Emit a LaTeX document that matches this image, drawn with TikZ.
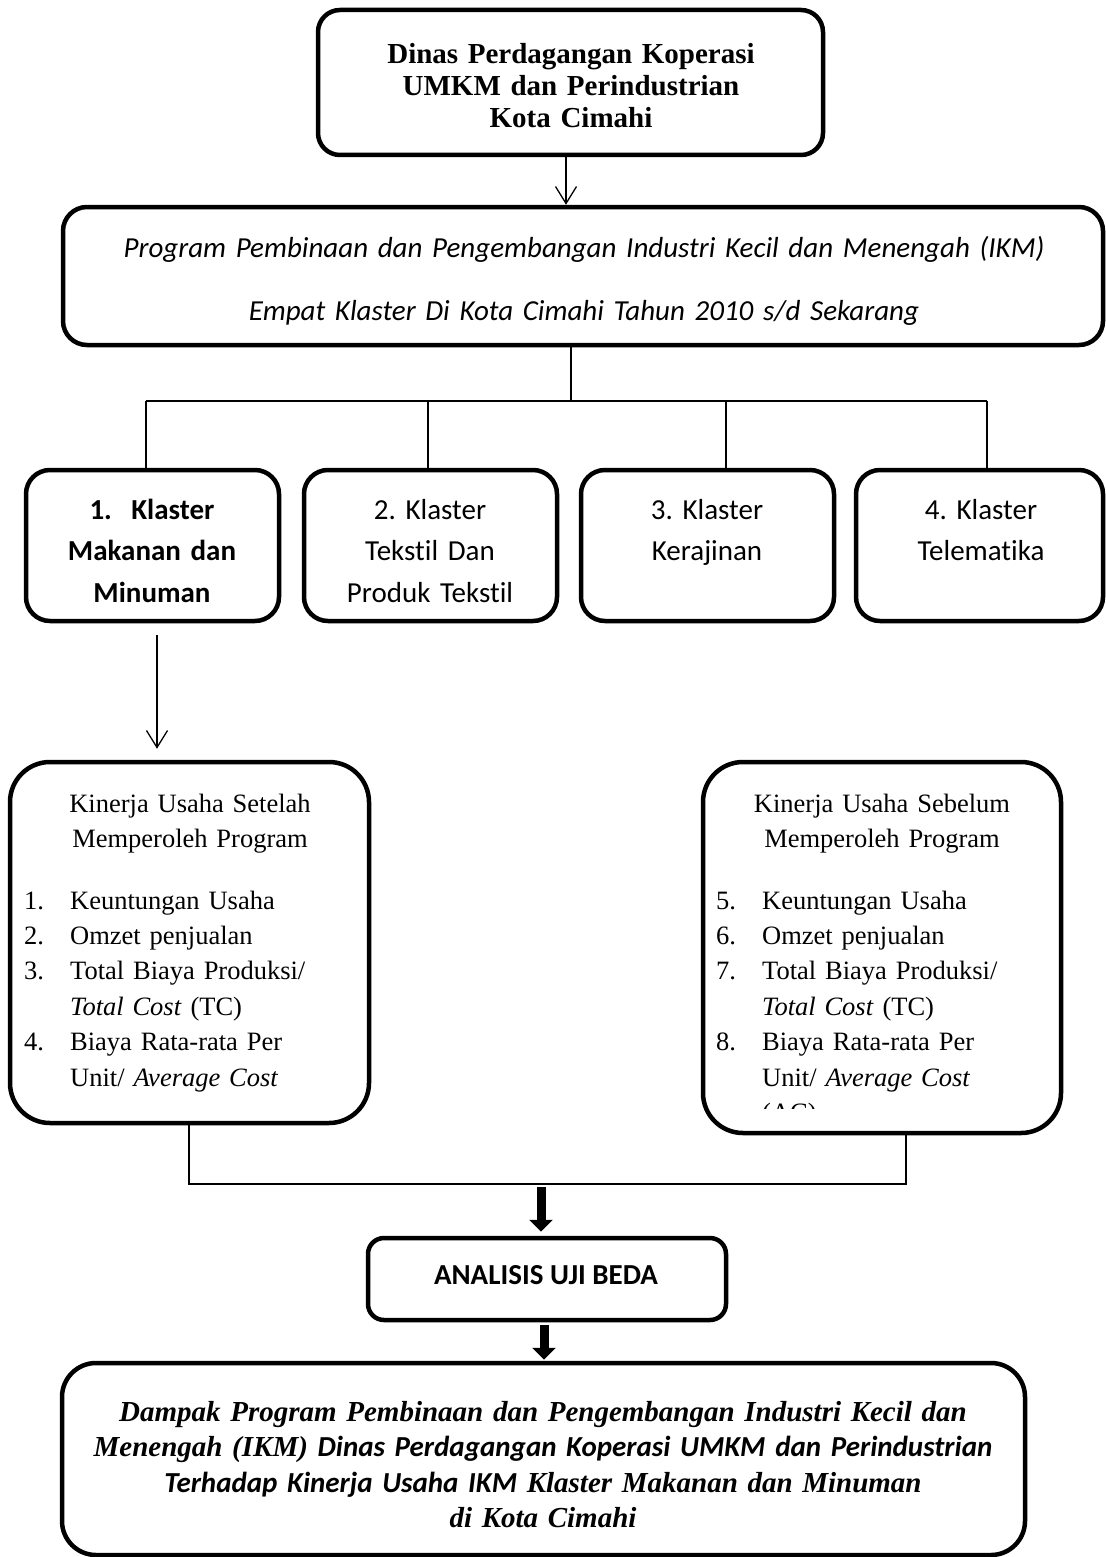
\documentclass[tikz,border=0pt]{standalone}
\usepackage{fontspec}
\setmainfont{Liberation Serif}
\newfontfamily\calibri[Ligatures=NoCommon]{Carlito}
\usetikzlibrary{arrows.meta,calc}
\frenchspacing
\begin{document}
\begin{tikzpicture}[x=1pt,y=-1pt,
  box/.style={draw, line width=4.5pt, rounded corners=#1, inner sep=0pt},
  box/.default=22pt,
  txt/.style={inner sep=0pt, anchor=base},
  thin/.style={line width=1.3pt},
  thinarrow/.style={line width=1.3pt, -{Straight Barb[length=17pt,width=21pt]}},
  thickarrow/.style={line width=9pt, -{Triangle[length=12pt,width=23pt]}},
  ]
\useasboundingbox (0,0) rectangle (1105,1557);

% boxes
\node[box=22pt, minimum width=505pt, minimum height=145pt] (top) at (570.5,82.5) {};
\node[box=24pt, minimum width=1040pt, minimum height=138pt] (prog) at (583,276) {};
\node[box=24pt, minimum width=253pt, minimum height=151pt] (k1) at (152.5,545.5) {};
\node[box=24pt, minimum width=253pt, minimum height=151pt] (k2) at (430.5,545.5) {};
\node[box=24pt, minimum width=253pt, minimum height=151pt] (k3) at (707.5,545.5) {};
\node[box=24pt, minimum width=247pt, minimum height=151pt] (k4) at (979.5,545.5) {};
\node[box=40pt, minimum width=359pt, minimum height=361pt] (set) at (189.5,942.5) {};
\node[box=40pt, minimum width=358pt, minimum height=371pt] (seb) at (882,947.5) {};
\node[box=16pt, minimum width=358pt, minimum height=82pt] (ana) at (547,1279) {};
\node[box=34pt, minimum width=963pt, minimum height=192pt] (bot) at (543.5,1459) {};

% texts
\node[txt, text width=500pt, align=center, font=\fontsize{29}{32}\selectfont\bfseries] (toptxt) at (571,64)
  {Dinas Perdagangan Koperasi\\UMKM dan Perindustrian\\Kota Cimahi};
\node[txt, text width=1020pt, align=center, font=\calibri\fontsize{29}{63.5}\selectfont\itshape] (progtxt) at (584,257)
  {Program Pembinaan dan Pengembangan Industri Kecil dan Menengah (IKM)\\Empat Klaster Di Kota Cimahi Tahun 2010 s/d Sekarang};
\node[txt, text width=245pt, align=center, font=\calibri\fontsize{29}{41.5}\selectfont\bfseries] (k1txt) at (152,519)
  {1.\ \ Klaster\\Makanan dan\\Minuman};
\node[txt, text width=245pt, align=center, font=\calibri\fontsize{29}{41.5}\selectfont] (k2txt) at (430,519)
  {2. Klaster\\Tekstil Dan\\Produk Tekstil};
\node[txt, text width=245pt, align=center, font=\calibri\fontsize{29}{41.5}\selectfont] (k3txt) at (707,519)
  {3. Klaster\\Kerajinan};
\node[txt, text width=245pt, align=center, font=\calibri\fontsize{29}{41.5}\selectfont] (k4txt) at (981,519)
  {4. Klaster\\Telematika};

\node[txt, text width=340pt, align=center, font=\fontsize{26.5}{35.3}\selectfont] (sethead) at (190,812)
  {Kinerja Usaha Setelah\\Memperoleh Program};
\node[txt, anchor=base west, text width=340pt, align=left, font=\fontsize{26.5}{35.4}\selectfont] (setlist) at (24,909)
  {\makebox[46pt][l]{1.}Keuntungan Usaha\\
   \makebox[46pt][l]{2.}Omzet penjualan\\
   \makebox[46pt][l]{3.}Total Biaya Produksi/\\
   \hspace*{46pt}\textit{Total Cost} (TC)\\
   \makebox[46pt][l]{4.}Biaya Rata-rata Per\\
   \hspace*{46pt}Unit/ \textit{Average Cost}};

\node[txt, text width=340pt, align=center, font=\fontsize{26.5}{35.3}\selectfont] (sebhead) at (882,812)
  {Kinerja Usaha Sebelum\\Memperoleh Program};
\node[txt, anchor=base west, text width=330pt, align=left, font=\fontsize{26.5}{35.4}\selectfont] (seblist) at (716,909)
  {\makebox[46pt][l]{5.}Keuntungan Usaha\\
   \makebox[46pt][l]{6.}Omzet penjualan\\
   \makebox[46pt][l]{7.}Total Biaya Produksi/\\
   \hspace*{46pt}\textit{Total Cost} (TC)\\
   \makebox[46pt][l]{8.}Biaya Rata-rata Per\\
   \hspace*{46pt}Unit/ \textit{Average Cost}};
\begin{scope}
  \clip (703,762) rectangle (1061,1108);
  \node[txt, anchor=base west, font=\fontsize{26.5}{35.4}\selectfont] (ac) at (762,1121) {(AC)};
\end{scope}

\node[txt, font=\calibri\fontsize{29}{35}\selectfont\bfseries] (anatxt) at (546,1284) {ANALISIS UJI BEDA};

\node[txt, text width=950pt, align=center, font=\fontsize{29}{35.5}\selectfont\bfseries\itshape] (bottxt) at (543,1421)
  {Dampak Program Pembinaan dan Pengembangan Industri Kecil dan\\
   Menengah (IKM) {\calibri Dinas Perdagangan Koperasi UMKM dan Perindustrian}\\
   {\calibri Terhadap Kinerja Usaha IKM} Klaster Makanan dan Minuman\\
   di Kota Cimahi};

% connectors
\coordinate (ta) at (566,0);
\draw[thinarrow] (ta |- top.south) -- (ta |- prog.north);

\coordinate (busc) at (571,401);
\coordinate (bus1) at (146,401);
\coordinate (bus2) at (428,401);
\coordinate (bus3) at (726,401);
\coordinate (bus4) at (987,401);
\draw[thin] (busc |- prog.south) -- (busc);
\draw[thin] (bus1) -- (bus4);
\draw[thin] (bus1) -- (bus1 |- k1.north);
\draw[thin] (bus2) -- (bus2 |- k2.north);
\draw[thin] (bus3) -- (bus3 |- k3.north);
\draw[thin] (bus4) -- (bus4 |- k4.north);

\coordinate (ka) at (157,0);
\draw[thinarrow, shorten <=12pt, shorten >=11pt] (ka |- k1.south) -- (ka |- set.north);

\coordinate (j1) at (189,1184);
\coordinate (j2) at (906,1184);
\draw[thin] (j1 |- set.south) -- (j1) -- (j2) -- (j2 |- seb.south);

\coordinate (ja) at (541,1187);
\draw[thickarrow, shorten >=4pt] (ja) -- (ja |- ana.north);
\coordinate (jb) at (544,0);
\draw[thickarrow, shorten <=3pt, shorten >=1pt] (jb |- ana.south) -- (jb |- bot.north);
\end{tikzpicture}
\end{document}
